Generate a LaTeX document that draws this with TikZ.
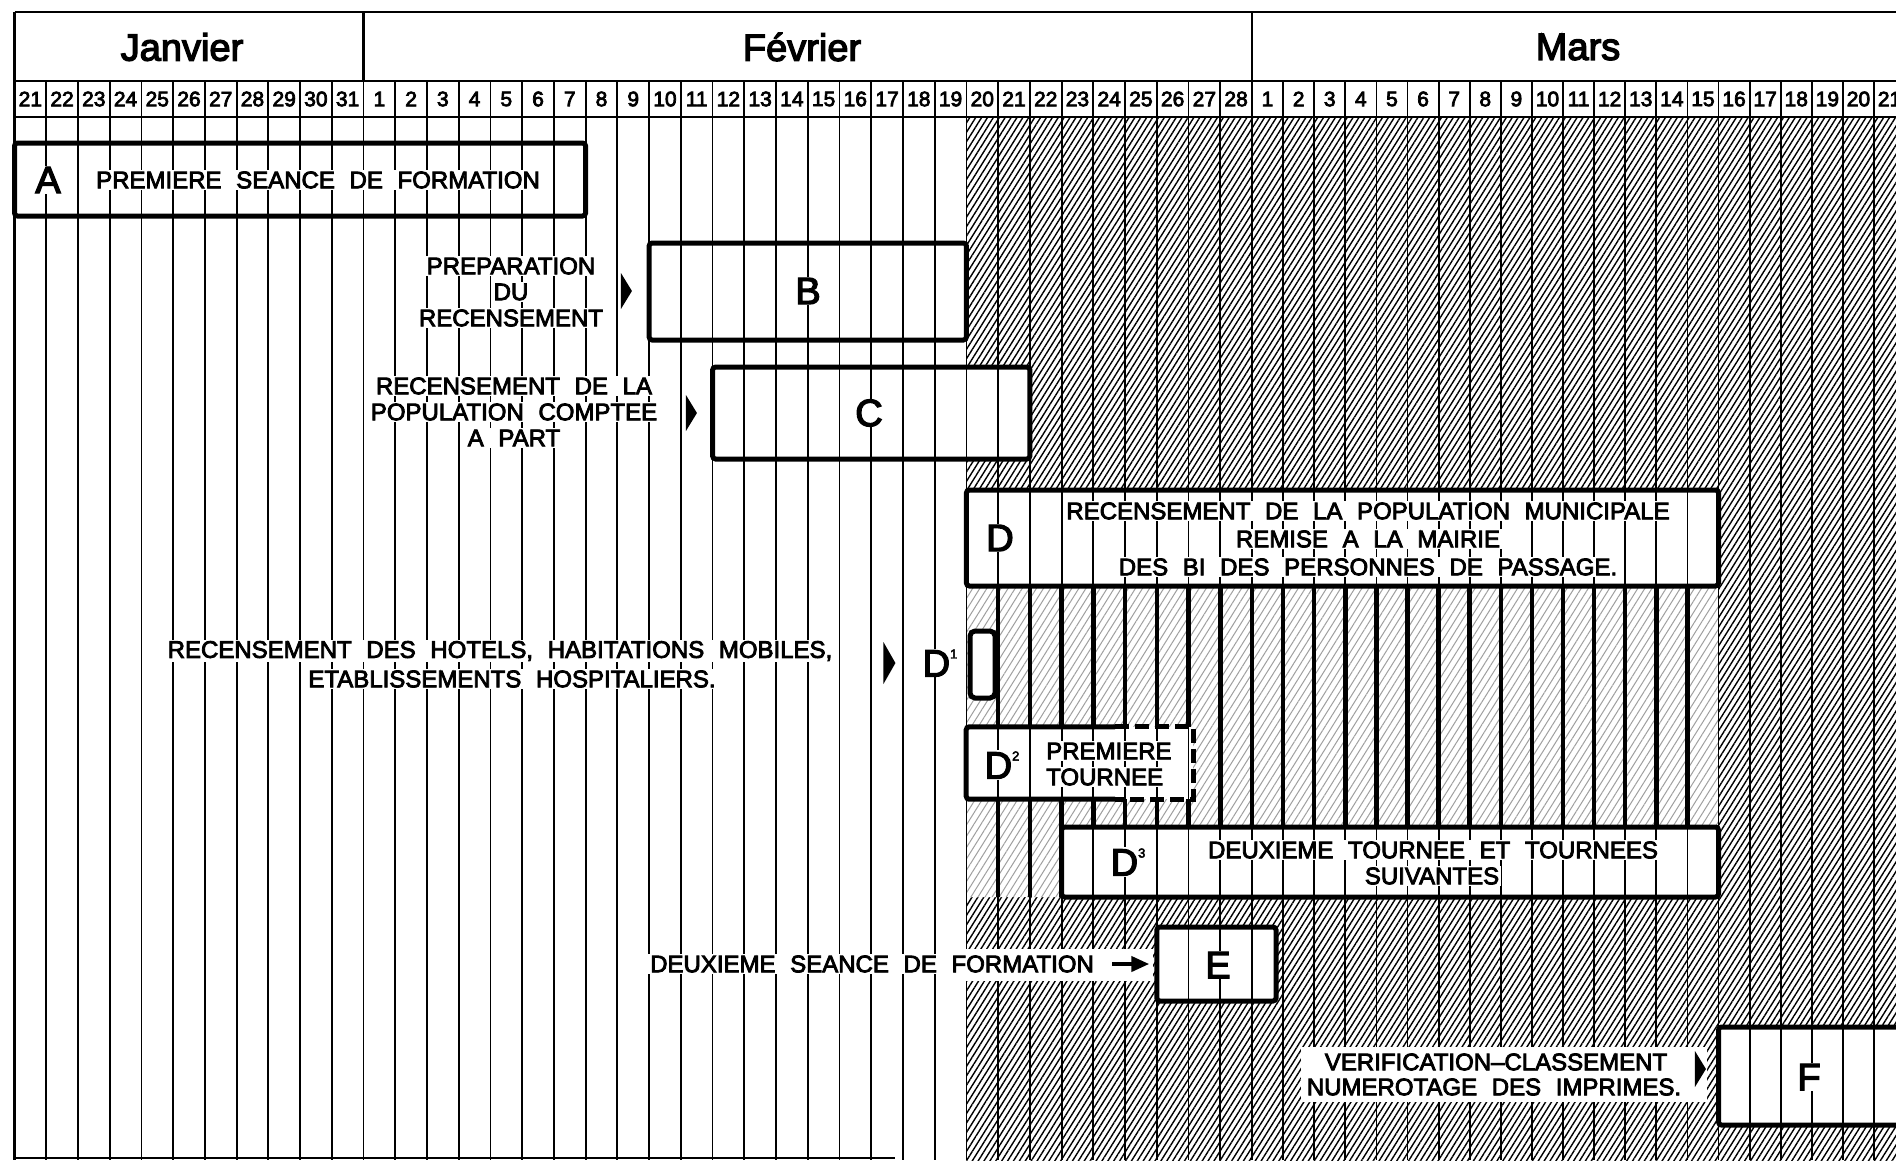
\documentclass[tikz,border=0pt]{standalone}
\usepackage{fontspec}
\setmainfont{Liberation Sans}
\newfontfamily\chartfont{Liberation Sans}[WordSpace=2.2,FakeBold=3.5]
\usetikzlibrary{patterns.meta,shapes.geometric,fit,arrows.meta}

% x position of the left edge of day column #1 (0 = 21 janvier)
\pgfmathdeclarefunction{colx}{1}{\pgfmathparse{(#1<=39) ? 14.5+31.73*#1 : 1252+31.1*(#1-39)}}
\newcommand\dsup[1]{\raisebox{18pt}{\fontsize{13}{13}\selectfont#1}}

\tikzset{
  gridline/.style={line width=1.8pt},
  frameline/.style={line width=2.6pt},
  zoneline/.style={line width=4.5pt},
  taskbox/.style={draw, line width=5pt, fill=white, rounded corners=3pt, inner sep=0pt},
  lbl/.style={font=\chartfont\fontsize{24}{24}\selectfont, fill=white, inner xsep=2pt, inner ysep=1.5pt},
  letter/.style={font=\chartfont\fontsize{38}{38}\selectfont, fill=white, inner sep=1pt},
  monthname/.style={font=\chartfont\fontsize{38}{38}\selectfont},
  daynum/.style={font=\chartfont\fontsize{21}{21}\selectfont, inner sep=0pt},
  tri/.style={isosceles triangle, isosceles triangle stretches, fill=black, inner sep=0pt, minimum width=36pt, minimum height=11pt},
  earrow/.style={-{Triangle[length=18pt,width=15pt]}, line width=4pt, shorten <=16pt, shorten >=5pt},
}

\begin{document}
\begin{tikzpicture}[x=1pt,y=-1pt]
	\useasboundingbox (0,0) rectangle (1896,1160);
	\clip (0,0) rectangle (1896,1160);

	% hatched period
	\fill[pattern={Lines[angle=58,distance=5pt,line width=1.4pt]}] (966.4,117) rectangle (1896,1160);

	% census period D
	\begin{scope}
		\clip (966.4,586) -- (1718.5,586) -- (1718.5,827) -- (1061.6,827) -- (1061.6,897) -- (966.4,897) -- cycle;
		\fill[white] (960,580) rectangle (1725,900);
		\fill[pattern={Lines[angle=58,distance=6pt,line width=1pt]}, pattern color=gray!75] (960,580) rectangle (1725,900);
		\foreach \i in {31,...,53}
			\draw[zoneline] ({colx(\i)},580) -- ({colx(\i)},900);
	\end{scope}

	% task boxes
	\node[taskbox, fit={(14.5,143) (585.6,216)}] (boxA) {};
	\node[taskbox, fit={(649.1,243) (966.4,340)}] (boxB) {};
	\node[taskbox, fit={(712.6,367) (1029.9,459)}] (boxC) {};
	\node[taskbox, fit={(966.4,490) (1718.5,586)}] (boxD) {};
	\node[taskbox, rounded corners=5pt, fit={(970,631) (995,698)}] (boxD1) {};
	\node[fill=white, inner sep=0pt, fit={(966.4,727) (1193,799)}] (boxD2) {};
	\node[taskbox, fit={(1061.6,827) (1718.5,897)}] (boxD3) {};
	\node[taskbox, fit={(1156.8,927) (1276,1001)}] (boxE) {};
	\node[taskbox, fit={(1718.5,1027) (1930,1125)}] (boxF) {};

	% grid
	\draw[frameline] (14.5,12) -- (1896,12);
	\draw[frameline] (14.5,81) -- (1896,81);
	\draw[frameline] (14.5,117) -- (1896,117);
	\draw[frameline] (14.5,12) -- (14.5,1160);
	\draw[frameline] (363.5,12) -- (363.5,81);
	\draw[frameline] (1252,12) -- (1252,81);
	\foreach \i in {1,...,60}
		\draw[gridline] ({colx(\i)},81) -- ({colx(\i)},1160);
	\draw[frameline] (14.5,1158) -- (895,1158);

	% D2 outline, open on the right
	\coordinate (d2cut) at (1115,0);
	\draw[line width=5pt, rounded corners=3pt] (d2cut |- boxD2.north) -- (boxD2.north west) -- (boxD2.south west) -- (d2cut |- boxD2.south);
	\draw[line width=5pt, dash pattern=on 14pt off 6pt] (d2cut |- boxD2.north) -- (boxD2.north east) -- (boxD2.south east) -- (d2cut |- boxD2.south);

	% header
	\node[monthname] (jan) at (182,47) {Janvier};
	\node[monthname] (feb) at (802,47) {Février};
	\node[monthname] (mar) at (1578,47) {Mars};
	\foreach \i in {0,...,59} {
		\pgfmathtruncatemacro\d{\i<11 ? \i+21 : (\i<39 ? \i-10 : \i-38)}
		\pgfmathsetmacro\xc{(colx(\i)+colx(\i+1))/2}
		\node[daynum] (day\i) at (\xc,99) {\d};
	}

	% A
	\node[letter] (letA) at (48,180) {A};
	\node[lbl] (lblA) at (318,180) {PREMIERE SEANCE DE FORMATION};

	% B
	\node[letter] (letB) at (808,291) {B};
	\node[lbl] (lblB1) at (511,266) {PREPARATION};
	\node[lbl] (lblB2) at (511,292) {DU};
	\node[lbl] (lblB3) at (511,318) {RECENSEMENT};
	\node[tri] (triB) at (626,291) {};

	% C
	\node[letter] (letC) at (869,413) {C};
	\node[lbl] (lblC1) at (514,386) {RECENSEMENT DE LA};
	\node[lbl] (lblC2) at (514,412) {POPULATION COMPTEE};
	\node[lbl] (lblC3) at (514,438) {A PART};
	\node[tri] (triC) at (691,413) {};

	% D
	\node[letter] (letD) at (1000,538) {D};
	\node[lbl] (lblD1) at (1368,511) {RECENSEMENT DE LA POPULATION MUNICIPALE};
	\node[lbl] (lblD2) at (1368,539) {REMISE A LA MAIRIE};
	\node[lbl] (lblD3) at (1368,567) {DES BI DES PERSONNES DE PASSAGE.};

	% D1
	\node[letter] (letD1) at (940,663) {D\dsup{1}};
	\node[lbl] (lblD1a) at (500,651) {RECENSEMENT DES HOTELS, HABITATIONS MOBILES,};
	\node[lbl] (lblD1b) at (512,679) {ETABLISSEMENTS HOSPITALIERS.};
	\node[tri, minimum width=42pt, minimum height=12pt] (triD1) at (889,663) {};

	% D2
	\node[letter] (letD2) at (1002,765) {D\dsup{2}};
	\node[lbl, anchor=west] (lblD2a) at (1044,751) {PREMIERE};
	\node[lbl, anchor=west] (lblD2b) at (1044,777) {TOURNEE};

	% D3
	\node[letter] (letD3) at (1128,862) {D\dsup{3}};
	\node[lbl] (lblD3a) at (1433,850) {DEUXIEME TOURNEE ET TOURNEES};
	\node[lbl] (lblD3b) at (1432,876) {SUIVANTES};

	% E
	\fill[white] (957,949) rectangle (1153,981);
	\node[letter] (letE) at (1218,965) {E};
	\node[lbl] (lblE) at (872,964) {DEUXIEME SEANCE DE FORMATION};
	\draw[earrow] (lblE.east) -- (boxE.west);

	% F
	\fill[white] (1301,1047) rectangle (1707,1102);
	\node[letter] (letF) at (1809,1077) {F};
	\node[lbl] (lblF1) at (1496,1062) {VERIFICATION–CLASSEMENT};
	\node[lbl] (lblF2) at (1494,1087) {NUMEROTAGE DES IMPRIMES.};
	\node[tri] (triF) at (1700,1069) {};

\end{tikzpicture}
\end{document}
